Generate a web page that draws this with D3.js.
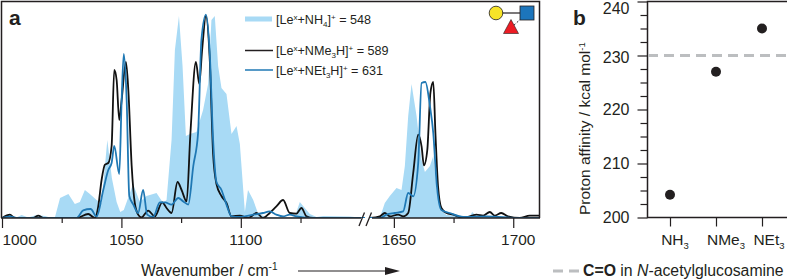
<!DOCTYPE html>
<html>
<head>
<meta charset="utf-8">
<script src="https://cdn.jsdelivr.net/npm/d3@7"></script>
<style>
    html, body { margin: 0; padding: 0; background: #fff; }
    svg { display: block; }
    text { font-family: "Liberation Sans", Arial, sans-serif; fill: #231f20; }
    .domain, .tick line { stroke: #231f20; }
</style>
</head>
<body>
<svg id="chart" width="787" height="279"></svg>
<script>
    // [wavenumber, intensity], low and high range
    const nh4Low = [[1000,0.5],[1003.3,1.5],[1006,0.3],[1008.2,1.5],[1011,0.3],[1014.5,1.5],[1018,1],[1020,0.3],[1022.2,0.5],[1024.3,10],[1027.8,12],[1030.5,7],[1032.6,8],[1034.7,14],[1036.8,12],[1039.6,9],[1041.7,7.5],[1044.1,39],[1046,20],[1048,8],[1049.5,3],[1051,4],[1054.9,17],[1057.7,8],[1060.5,11],[1064.7,12.5],[1067.5,7.5],[1068.9,9],[1069.6,19],[1071,39],[1072.4,84],[1074.1,101],[1075.6,76],[1077,41],[1078.7,42],[1081.4,43],[1084.2,54],[1086.3,67],[1087.7,99],[1089.1,101],[1090.5,76],[1091.9,65],[1094,62],[1096.1,42],[1098.2,46],[1099.6,37],[1101.7,3],[1103,14],[1105.2,9],[1107.3,2],[1110.7,0.5],[1122.6,0.5],[1124.7,8],[1126.8,5],[1128.9,2],[1131.7,0.5],[1134.5,1],[1145.6,0.8],[1149.8,0.3],[1152,0]];
    const nh4High = [[1640,0],[1644.1,0],[1646.2,7.5],[1648.3,11],[1651.1,15],[1653.2,14],[1654.6,26],[1656,51],[1657.4,67],[1659.5,51],[1661.6,29],[1663,23],[1665.1,26],[1666.5,31],[1667.9,14],[1669.9,4],[1672,1.5],[1681.8,0.8],[1682.8,3],[1684.6,0.8],[1695.7,0.3],[1711,0.3]];
    const nme3Low = [[1000,0],[1003.3,1.7],[1005.4,0],[1013.1,0],[1015.2,1.2],[1017.3,0],[1031.2,0],[1036.1,2],[1038.9,0],[1040.3,5.8],[1041.7,19],[1043.1,26.7],[1044.5,27.5],[1045.9,36],[1047,74],[1048,69],[1049.1,49],[1050.1,59],[1051.9,78],[1052.9,64],[1054.3,26],[1055.6,7.5],[1057,1.7],[1058.4,0.3],[1061.2,3.7],[1064,0.8],[1067.1,7.8],[1068.9,5],[1071,2.5],[1073.5,18],[1075.2,14],[1077.3,8.3],[1078.9,42.5],[1081.2,78],[1082.6,67],[1083.8,84],[1085.4,101],[1087,79],[1088.4,32],[1089.8,17],[1091.9,11],[1094,7.5],[1096.1,0.8],[1099.6,1.2],[1103.1,0],[1106.6,2.5],[1109.3,0],[1112.1,2.5],[1114.9,5.8],[1117.7,9],[1120.5,2.5],[1123.3,2.2],[1125.4,5],[1127.5,0.8],[1130.3,0],[1152,0]];
    const nme3High = [[1640,0],[1644.1,0.8],[1646.2,2.5],[1648.3,0.8],[1651.8,1.7],[1653.9,0.8],[1656,2.5],[1658.1,22.5],[1660.2,41.7],[1661.6,35.8],[1662.6,26.3],[1664,34],[1665.3,62.5],[1666.5,68],[1667.4,42.5],[1668.5,15.8],[1669.9,5],[1672,2.5],[1674.8,1.7],[1679,0],[1684.6,1.7],[1687.4,1.2],[1690.2,3],[1692.3,1.2],[1695,2.5],[1697.8,0.8],[1702.7,0],[1706.9,1.2],[1711,1.2]];
    const net3Low = [[1000,0],[1003.3,0.8],[1006.1,0],[1031.2,0],[1034,3.8],[1037.1,4.5],[1039.6,0.8],[1042.4,14],[1044.5,24],[1045.9,27.5],[1047,36],[1049.1,22],[1050.1,59],[1051,82],[1052.2,59],[1053.3,11],[1055,6.7],[1057,2.5],[1059.1,14],[1060.8,1.7],[1063.3,0.5],[1066.1,7.8],[1068.2,7.8],[1071,6.7],[1073.8,10],[1075.9,8.3],[1078,6.7],[1080.1,26],[1082.1,42.5],[1083.5,89],[1085.4,101.7],[1087,82],[1088.4,39],[1089.8,18],[1091.9,14],[1094,6.7],[1096.1,0.8],[1099.6,0.5],[1105.2,1.7],[1109.3,2.5],[1112.1,3.3],[1114.9,1.7],[1117.7,0.8],[1120.5,1.7],[1123.3,0.8],[1130.3,0],[1152,0]];
    const net3High = [[1640,0],[1644.1,0],[1646.9,1.7],[1650.4,2.5],[1653.9,3.3],[1656,12.5],[1658.1,10.8],[1660.2,27.5],[1661.6,67.5],[1663.2,68],[1665.1,56],[1666.5,42.5],[1667.9,17.5],[1669.9,4],[1673.4,2.5],[1679,0.5],[1688.8,0.8],[1702.7,0],[1711,0]];

    const majorLow = [1000, 1050, 1100];
    const minorLow = [1025, 1075, 1125];
    const majorHigh = [1650, 1700];
    const minorHigh = [1675];

    const bases = ["NH3", "NMe3", "NEt3"];
    const affinity = [204.2, 227, 235];
    const carbonylAffinity = 230;
    const majorY = [200, 210, 220, 230, 240];
    const minorY = [202.5, 205, 207.5, 212.5, 215, 217.5, 222.5, 225, 227.5, 232.5, 235, 237.5];

    const ink = "#231f20";
    const lightBlue = "#a8daf5";
    const darkBlue = "#1f78b4";

    const svg = d3.select("#chart");

    const xLow = d3.scaleLinear().domain([1000, 1152]).range([2, 365]);
    const xHigh = d3.scaleLinear().domain([1640, 1711]).range([370, 539.5]);
    const y = d3.scaleLinear().domain([0, 108]).range([218, 2]);

    // clip so the two ranges stop at the break
    svg.append("clipPath").attr("id", "plotClip").append("rect")
        .attr("x", 2).attr("y", 2).attr("width", 537).attr("height", 216);

    const plot = svg.append("g").attr("clip-path", "url(#plotClip)");

    function drawRange(x, fillData, blackData, blueData) {
        const area = d3.area().x((d) => x(d[0])).y0(y(0)).y1((d) => y(d[1]));
        const line = d3.line().x((d) => x(d[0])).y((d) => y(d[1])).curve(d3.curveMonotoneX);
        plot.append("path").attr("d", area(fillData)).attr("fill", lightBlue);
        plot.append("path").attr("d", line(blackData)).attr("fill", "none")
            .attr("stroke", "#111").attr("stroke-width", 1.8);
        plot.append("path").attr("d", line(blueData)).attr("fill", "none")
            .attr("stroke", darkBlue).attr("stroke-width", 1.8);
    }
    drawRange(xLow, nh4Low, nme3Low, net3Low);
    drawRange(xHigh, nh4High, nme3High, net3High);

    // frame of panel a
    svg.append("path")
        .attr("d", `M1.5,218V1.5H539.5V218`)
        .attr("fill", "none").attr("stroke", ink).attr("stroke-width", 1.5);

    function bottomAxis(x, major, minor, x0, x1) {
        svg.append("line").attr("x1", x0).attr("x2", x1).attr("y1", 218).attr("y2", 218)
            .attr("stroke", ink).attr("stroke-width", 1.5);
        const gMajor = svg.append("g").attr("transform", "translate(0,218)")
            .call(d3.axisBottom(x).tickValues(major).tickSize(10).tickPadding(6).tickFormat(d3.format("d")));
        gMajor.select(".domain").remove();
        gMajor.selectAll("line").attr("stroke-width", 1.2);
        gMajor.selectAll("text").attr("font-size", 15.4).attr("fill", ink).attr("dx", 4.5).style("font-family", null);
        const gMinor = svg.append("g").attr("transform", "translate(0,218)")
            .call(d3.axisBottom(x).tickValues(minor).tickSize(5).tickFormat(""));
        gMinor.select(".domain").remove();
        gMinor.selectAll("line").attr("stroke-width", 1.2);
        return gMajor;
    }
    const lowAxis = bottomAxis(xLow, majorLow, minorLow, 1, 361);
    bottomAxis(xHigh, majorHigh, minorHigh, 372, 540);
    lowAxis.selectAll(".tick text")
        .filter((d) => d === 1000)
        .attr("text-anchor", "start").attr("x", 0).attr("dx", 0);

    // axis break marks
    [[0], [7]].forEach(([dx]) => {
        svg.append("line")
            .attr("x1", 359 + dx).attr("y1", 226).attr("x2", 364.5 + dx).attr("y2", 212.5)
            .attr("stroke", ink).attr("stroke-width", 1.3);
    });

    // axis title and arrow
    const xTitle = svg.append("text").attr("x", 141).attr("y", 276).attr("font-size", 15.8);
    xTitle.append("tspan").text("Wavenumber / cm");
    xTitle.append("tspan").text("-1").attr("dy", -6).attr("font-size", 10);
    svg.append("line").attr("x1", 298).attr("x2", 392).attr("y1", 271).attr("y2", 271)
        .attr("stroke", ink).attr("stroke-width", 1.2);
    svg.append("path").attr("d", "M385,267L400,271L385,275Z").attr("fill", ink);

    svg.append("text").attr("x", 9).attr("y", 25).attr("font-size", 21).attr("font-weight", "bold").text("a");

    // legend of panel a
    function richLabel(yPos, parts) {
        const t = svg.append("text").attr("x", 276).attr("y", yPos).attr("font-size", 12.6);
        let shift = 0;
        parts.forEach(([txt, kind]) => {
            const offset = kind === "sup" ? -4.5 : kind === "sub" ? 3 : 0;
            t.append("tspan").text(txt)
                .attr("dy", offset - shift)
                .attr("font-size", kind ? 8 : 12.6);
            shift = offset;
        });
    }
    svg.append("rect").attr("x", 245).attr("y", 16.5).attr("width", 27).attr("height", 5).attr("fill", lightBlue);
    svg.append("line").attr("x1", 245).attr("x2", 273).attr("y1", 50.5).attr("y2", 50.5)
        .attr("stroke", ink).attr("stroke-width", 1.5);
    svg.append("line").attr("x1", 245).attr("x2", 273).attr("y1", 70).attr("y2", 70)
        .attr("stroke", darkBlue).attr("stroke-width", 1.5);
    richLabel(24, [["[Le"], ["x", "sup"], ["+NH"], ["4", "sub"], ["]"], ["+", "sup"], [" = 548"]]);
    richLabel(55, [["[Le"], ["x", "sup"], ["+NMe"], ["3", "sub"], ["H]"], ["+", "sup"], [" = 589"]]);
    richLabel(75, [["[Le"], ["x", "sup"], ["+NEt"], ["3", "sub"], ["H]"], ["+", "sup"], [" = 631"]]);

    // glycan symbol
    svg.append("line").attr("x1", 496).attr("x2", 527).attr("y1", 13).attr("y2", 13)
        .attr("stroke", ink).attr("stroke-width", 1.2);
    svg.append("line").attr("x1", 511).attr("x2", 527).attr("y1", 28).attr("y2", 13)
        .attr("stroke", ink).attr("stroke-width", 1).attr("stroke-dasharray", "2,2");
    svg.append("circle").attr("cx", 496).attr("cy", 13).attr("r", 6.8)
        .attr("fill", "#f7e428").attr("stroke", ink).attr("stroke-width", 0.8);
    svg.append("rect").attr("x", 520).attr("y", 6).attr("width", 14).attr("height", 14)
        .attr("fill", "#1c75bc").attr("stroke", ink).attr("stroke-width", 0.8);
    svg.append("path").attr("d", "M511,19.5L518.5,33.5H503.5Z")
        .attr("fill", "#ed1c24").attr("stroke", ink).attr("stroke-width", 0.6);

    // panel b
    const xBase = d3.scalePoint().domain(bases).range([670, 762]);
    const yPa = d3.scaleLinear().domain([200, 240]).range([217.5, 1.5]);

    svg.append("path").attr("d", "M787,1.5H647.5V217.5H787")
        .attr("fill", "none").attr("stroke", ink).attr("stroke-width", 1.5);

    const gY = svg.append("g").attr("transform", "translate(647.5,0)")
        .call(d3.axisLeft(yPa).tickValues(majorY).tickSize(10).tickPadding(8).tickFormat(d3.format("d")));
    gY.select(".domain").remove();
    gY.selectAll("line").attr("stroke-width", 1.2);
    gY.selectAll("text").attr("font-size", 16).attr("fill", ink).style("font-family", null);
    gY.selectAll(".tick text").filter((d) => d === 240).attr("dy", "0.74em");
    gY.selectAll(".tick text").filter((d) => d === 230).attr("dy", "0.42em");
    const gYMinor = svg.append("g").attr("transform", "translate(647.5,0)")
        .call(d3.axisLeft(yPa).tickValues(minorY).tickSize(7).tickFormat(""));
    gYMinor.select(".domain").remove();
    gYMinor.selectAll("line").attr("stroke-width", 1.2);

    const gX = svg.append("g").attr("transform", "translate(0,217.5)")
        .call(d3.axisBottom(xBase).tickSize(9).tickFormat(""));
    gX.select(".domain").remove();
    gX.selectAll("line").attr("stroke-width", 1.2);

    // tick labels with subscript 3, nudged right as in the figure
    const baseNudge = [5, 10, 7];
    bases.forEach((b, i) => {
        const t = svg.append("text").attr("x", xBase(b) + baseNudge[i]).attr("y", 245)
            .attr("text-anchor", "middle").attr("font-size", 15.5);
        t.append("tspan").text(b.slice(0, -1));
        t.append("tspan").text(b.slice(-1)).attr("dy", 4).attr("font-size", 9.5);
    });

    svg.append("line")
        .attr("x1", 648).attr("x2", 787)
        .attr("y1", yPa(carbonylAffinity)).attr("y2", yPa(carbonylAffinity))
        .attr("stroke", "#bcbec0").attr("stroke-width", 3).attr("stroke-dasharray", "10,6");

    svg.selectAll(".pt").data(bases).enter().append("circle").attr("class", "pt")
        .attr("cx", (d) => xBase(d))
        .attr("cy", (d, i) => yPa(affinity[i]))
        .attr("r", 5).attr("fill", ink);

    svg.append("text").attr("x", 573).attr("y", 25).attr("font-size", 21).attr("font-weight", "bold").text("b");

    const yTitle = svg.append("text")
        .attr("transform", "translate(590,215) rotate(-90)")
        .attr("font-size", 15.5);
    yTitle.append("tspan").text("Proton affinity / kcal mol");
    yTitle.append("tspan").text("-1").attr("dy", -5).attr("font-size", 9.5);

    // legend of panel b
    svg.append("line").attr("x1", 553).attr("x2", 580).attr("y1", 271).attr("y2", 271)
        .attr("stroke", "#bcbec0").attr("stroke-width", 3).attr("stroke-dasharray", "10,6");
    const note = svg.append("text").attr("x", 583).attr("y", 276).attr("font-size", 15.8);
    note.append("tspan").text("C=O").attr("font-weight", "bold");
    note.append("tspan").text(" in ");
    note.append("tspan").text("N").attr("font-style", "italic");
    note.append("tspan").text("-acetylglucosamine");
</script>
</body>
</html>
